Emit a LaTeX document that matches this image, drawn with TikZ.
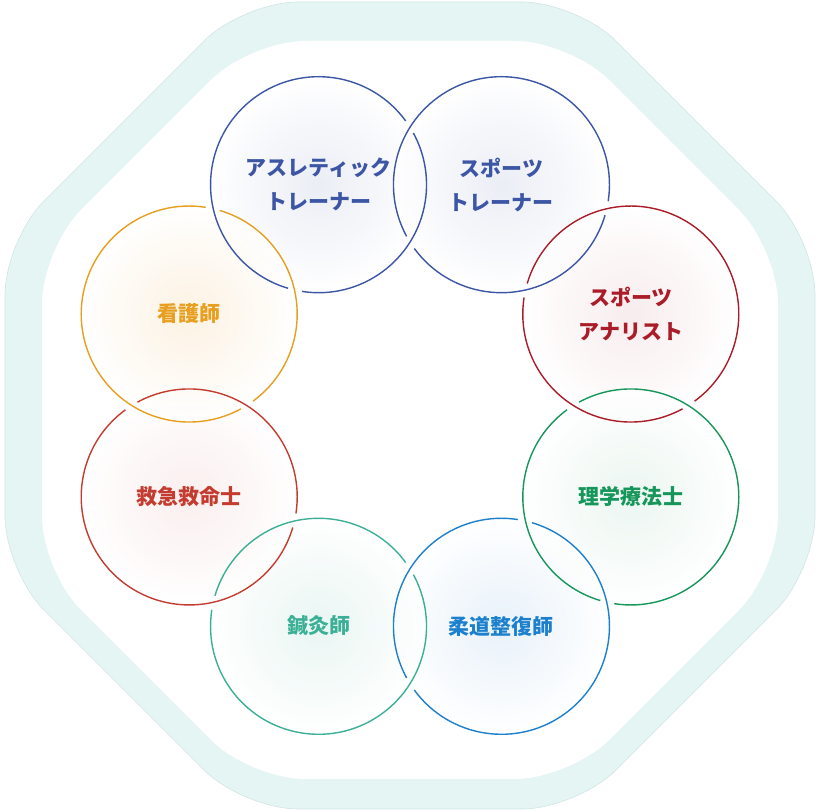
\documentclass[tikz,border=0pt]{standalone}
\usepackage{fontspec}
\newfontfamily\jpfont{Noto Sans CJK JP}
\usepackage{tikz}

\definecolor{navy}{RGB}{60,85,165}
\definecolor{wine}{RGB}{170,28,40}
\definecolor{leaf}{RGB}{22,150,90}
\definecolor{sky}{RGB}{28,128,205}
\definecolor{mint}{RGB}{60,176,150}
\definecolor{brick}{RGB}{196,60,48}
\definecolor{amber}{RGB}{232,158,30}
\definecolor{bandfill}{RGB}{229,245,244}
\definecolor{bandline}{RGB}{210,228,228}

\begin{document}
\begin{tikzpicture}[x=1pt,y=1pt,
  bubble/.style={circle, minimum size=216pt, inner sep=0pt, align=center,
    outer color=white, fill opacity=0.9, text opacity=1,
    font=\jpfont\bfseries\fontsize{21}{34}\selectfont},
  ring/.style={line width=1.4pt}]
\useasboundingbox (0,0) rectangle (820,811);
% frame
\filldraw[fill=bandfill, draw=bandline, line width=0.6pt, rounded corners=55pt]
  (243,809) -- (577,809) -- (815,571) -- (815,240) -- (577,2) -- (243,2) -- (5,240) -- (5,571) -- cycle;
\fill[white, rounded corners=55pt]
  (250,770) -- (570,770) -- (778,562) -- (778,240) -- (570,32) -- (250,32) -- (42,240) -- (42,562) -- cycle;
\coordinate (o) at (410,405.5);
% circles
\node[bubble, inner color=navy!11, text=navy] (athletic) at ([shift={(112.5:239pt)}]o) {アスレティック\\トレーナー};
\node[bubble, inner color=navy!11, text=navy] (sportstr) at ([shift={(67.5:239pt)}]o) {スポーツ\\トレーナー};
\node[bubble, inner color=wine!9, text=wine] (analyst) at ([shift={(22.5:239pt)}]o) {スポーツ\\アナリスト};
\node[bubble, inner color=leaf!9, text=leaf] (pt) at ([shift={(-22.5:239pt)}]o) {理学療法士};
\node[bubble, inner color=sky!11, text=sky] (judo) at ([shift={(-67.5:239pt)}]o) {柔道整復師};
\node[bubble, inner color=mint!12, text=mint] (shinkyu) at ([shift={(-112.5:239pt)}]o) {鍼灸師};
\node[bubble, inner color=brick!9, text=brick] (kyukyu) at ([shift={(-157.5:239pt)}]o) {救急救命士};
\node[bubble, inner color=amber!14, text=amber] (kango) at ([shift={(157.5:239pt)}]o) {看護師};
% outlines, broken where the next ring passes over
\draw[ring, navy] ([shift={(36.2:108pt)}]athletic.center) arc[start angle=36.2, end angle=253.6, radius=108pt];
\draw[ring, navy] ([shift={(261.2:108pt)}]athletic.center) arc[start angle=261.2, end angle=388.6, radius=108pt];
\draw[ring, navy] ([shift={(-8.8:108pt)}]sportstr.center) arc[start angle=-8.8, end angle=208.6, radius=108pt];
\draw[ring, navy] ([shift={(216.2:108pt)}]sportstr.center) arc[start angle=216.2, end angle=343.6, radius=108pt];
\draw[ring, wine] ([shift={(-53.8:108pt)}]analyst.center) arc[start angle=-53.8, end angle=163.6, radius=108pt];
\draw[ring, wine] ([shift={(171.2:108pt)}]analyst.center) arc[start angle=171.2, end angle=298.6, radius=108pt];
\draw[ring, leaf] ([shift={(-98.8:108pt)}]pt.center) arc[start angle=-98.8, end angle=118.6, radius=108pt];
\draw[ring, leaf] ([shift={(126.2:108pt)}]pt.center) arc[start angle=126.2, end angle=253.6, radius=108pt];
\draw[ring, sky] ([shift={(-143.8:108pt)}]judo.center) arc[start angle=-143.8, end angle=73.6, radius=108pt];
\draw[ring, sky] ([shift={(81.2:108pt)}]judo.center) arc[start angle=81.2, end angle=208.6, radius=108pt];
\draw[ring, mint] ([shift={(-188.8:108pt)}]shinkyu.center) arc[start angle=-188.8, end angle=28.6, radius=108pt];
\draw[ring, mint] ([shift={(36.2:108pt)}]shinkyu.center) arc[start angle=36.2, end angle=163.6, radius=108pt];
\draw[ring, brick] ([shift={(-233.8:108pt)}]kyukyu.center) arc[start angle=-233.8, end angle=-16.4, radius=108pt];
\draw[ring, brick] ([shift={(-8.8:108pt)}]kyukyu.center) arc[start angle=-8.8, end angle=118.6, radius=108pt];
\draw[ring, amber] ([shift={(81.2:108pt)}]kango.center) arc[start angle=81.2, end angle=298.6, radius=108pt];
\draw[ring, amber] ([shift={(306.2:108pt)}]kango.center) arc[start angle=306.2, end angle=433.6, radius=108pt];
\end{tikzpicture}
\end{document}
